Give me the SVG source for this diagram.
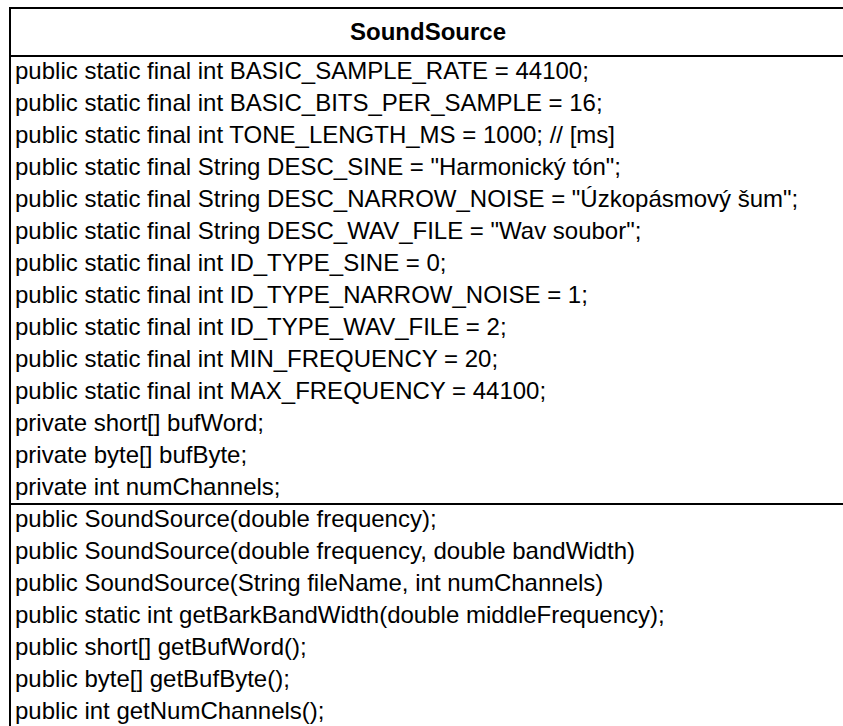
<svg xmlns="http://www.w3.org/2000/svg" width="843" height="726" viewBox="0 0 843 726">
<style>
.t{font-family:"Liberation Sans",Arial,sans-serif;font-size:24px;fill:#000}
.h{font-family:"Liberation Sans",Arial,sans-serif;font-size:24px;font-weight:bold;fill:#000}
.ln{stroke:#000;stroke-width:2;fill:none}
</style>
<rect x="0" y="0" width="843" height="726" fill="#fff"/>
<g id="SoundSource">
<rect x="10" y="8" width="850" height="740" fill="#fff" class="ln"/>
<line x1="10" y1="56" x2="843" y2="56" class="ln"/>
<line x1="10" y1="504" x2="843" y2="504" class="ln"/>
<text class="h" x="428" y="40" text-anchor="middle">SoundSource</text>
<text class="t" x="15" y="79">public static final int BASIC_SAMPLE_RATE = 44100;</text>
<text class="t" x="15" y="111">public static final int BASIC_BITS_PER_SAMPLE = 16;</text>
<text class="t" x="15" y="143">public static final int TONE_LENGTH_MS = 1000; // [ms]</text>
<text class="t" x="15" y="175">public static final String DESC_SINE = "Harmonický tón";</text>
<text class="t" x="15" y="207">public static final String DESC_NARROW_NOISE = "Úzkopásmový šum";</text>
<text class="t" x="15" y="239">public static final String DESC_WAV_FILE = "Wav soubor";</text>
<text class="t" x="15" y="271">public static final int ID_TYPE_SINE = 0;</text>
<text class="t" x="15" y="303">public static final int ID_TYPE_NARROW_NOISE = 1;</text>
<text class="t" x="15" y="335">public static final int ID_TYPE_WAV_FILE = 2;</text>
<text class="t" x="15" y="367">public static final int MIN_FREQUENCY = 20;</text>
<text class="t" x="15" y="399">public static final int MAX_FREQUENCY = 44100;</text>
<text class="t" x="15" y="431">private short[] bufWord;</text>
<text class="t" x="15" y="463">private byte[] bufByte;</text>
<text class="t" x="15" y="495">private int numChannels;</text>
<text class="t" x="15" y="527">public SoundSource(double frequency);</text>
<text class="t" x="15" y="559">public SoundSource(double frequency, double bandWidth)</text>
<text class="t" x="15" y="591">public SoundSource(String fileName, int numChannels)</text>
<text class="t" x="15" y="623">public static int getBarkBandWidth(double middleFrequency);</text>
<text class="t" x="15" y="655">public short[] getBufWord();</text>
<text class="t" x="15" y="687">public byte[] getBufByte();</text>
<text class="t" x="15" y="719">public int getNumChannels();</text>
</g>
<g id="connectors"></g>
</svg>
